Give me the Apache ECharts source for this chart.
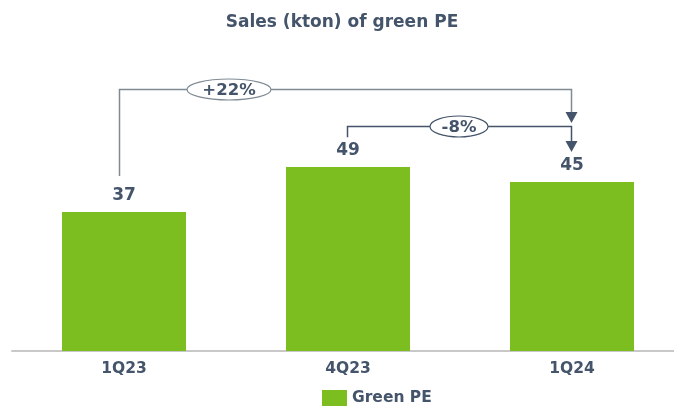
<!DOCTYPE html>
<html>
<head>
<meta charset="utf-8">
<script src="https://cdn.jsdelivr.net/npm/echarts@6/dist/echarts.min.js"></script>
<style>
  html, body { margin: 0; padding: 0; background: #fff; overflow: hidden; }
  #chart { width: 684px; height: 414px; }
</style>
</head>
<body>
<div id="chart"></div>
<script>
const categories = ['1Q23', '4Q23', '1Q24'];
const greenPE = [37, 49, 45];
const changeLabels = ['+22%', '-8%'];

const textColor = '#44546a';
const barColor = '#7cbd1f';
const font = 'DejaVu Sans';

const chart = echarts.init(document.getElementById('chart'));

chart.setOption({
  animation: false,
  title: {
    text: 'Sales (kton) of green PE',
    left: 'center',
    top: 9,
    textStyle: { fontFamily: font, fontSize: 17, fontWeight: 'bold', color: textColor }
  },
  legend: {
    bottom: 3,
    left: 317,
    itemWidth: 25,
    itemHeight: 16,
    itemGap: 8,
    icon: 'rect',
    textStyle: { fontFamily: font, fontSize: 15.5, fontWeight: 'bold', color: textColor },
    data: ['Green PE']
  },
  grid: { left: 12, right: 0, top: 88, bottom: 63 },
  xAxis: {
    type: 'category',
    data: categories,
    axisTick: { show: false },
    axisLine: { lineStyle: { color: '#c8c8c8', width: 2 } },
    axisLabel: { fontFamily: font, fontSize: 15.5, fontWeight: 'bold', color: textColor, margin: 10 }
  },
  yAxis: {
    type: 'value',
    min: 0,
    max: 70,
    show: false,
    splitLine: { show: false }
  },
  series: [{
    name: 'Green PE',
    type: 'bar',
    data: greenPE,
    barWidth: 124,
    itemStyle: { color: barColor },
    label: {
      show: true,
      position: 'top',
      distance: 8,
      fontFamily: font,
      fontSize: 17,
      fontWeight: 'bold',
      color: textColor
    }
  }]
});

// change brackets, placed through the chart's own scales
function px(i, v) { return chart.convertToPixel({ seriesIndex: 0 }, [i, v]); }

function bracket(fromIdx, toIdx, startVal, levelVal, endVal, legShift, labelX, label, color, rx) {
  const a = px(fromIdx, startVal);
  const top = px(fromIdx, levelVal);
  const b = px(toIdx, levelVal);
  const end = px(toIdx, endVal);
  const ax = Math.round(a[0]) + legShift + 0.5;
  const bx = Math.round(b[0]) - 0.5;
  const y0 = Math.round(top[1]) + 0.5;
  const y1 = Math.round(end[1]);
  return [
    { type: 'polyline', shape: { points: [[ax, a[1]], [ax, y0], [bx, y0], [bx, y1 - 8]] },
      style: { stroke: color, lineWidth: 1.5, fill: null }, z: 10 },
    { type: 'polygon', shape: { points: [[bx - 6, y1 - 11], [bx + 6, y1 - 11], [bx, y1]] },
      style: { fill: textColor }, z: 10 },
    { type: 'ellipse', shape: { cx: labelX, cy: y0, rx: rx, ry: 10.5 },
      style: { fill: '#fff', stroke: color, lineWidth: 1.2 }, z: 11 },
    { type: 'text', x: labelX, y: y0 + 1, z: 12,
      style: { text: label, fontFamily: font, fontSize: 16.5, fontWeight: 'bold', fill: textColor,
               align: 'center', verticalAlign: 'middle' } }
  ];
}

chart.setOption({
  graphic: []
    .concat(bracket(0, 2, 46.6, 69.7, 60.7, -5, 229, changeLabels[0], '#7f8a93', 42))
    .concat(bracket(1, 2, 56.9, 59.9, 53.0, -1, 459, changeLabels[1], '#44546a', 29))
});
</script>
</body>
</html>
